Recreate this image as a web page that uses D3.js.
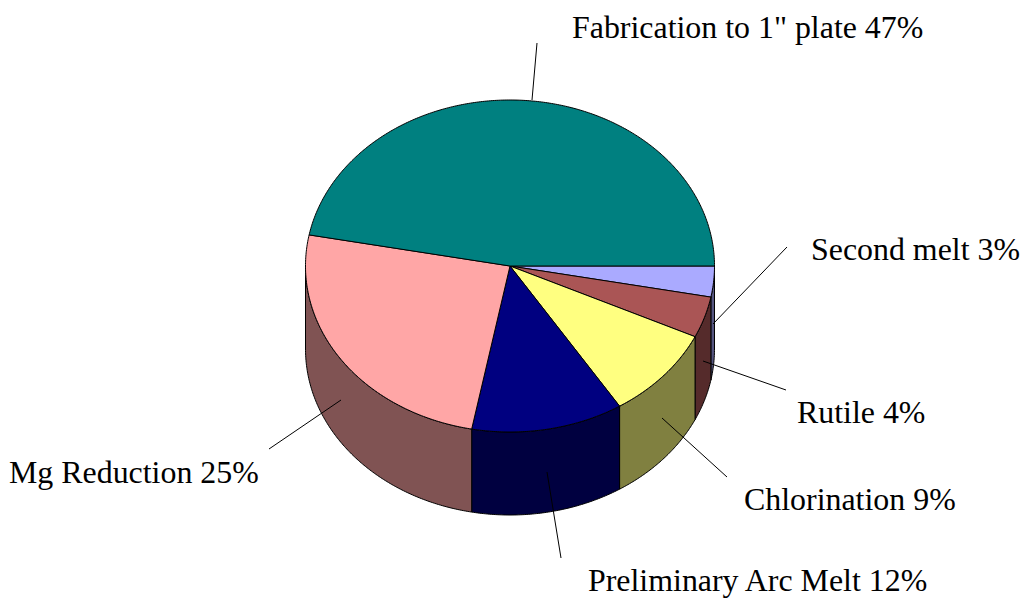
<!DOCTYPE html>
<html>
<head>
	<title>Cost breakdown pie</title>
	<meta charset="utf-8">
	<style>
	html, body { margin: 0; padding: 0; background: #fff; }
	svg { display: block; }
	text { font-family: "Liberation Serif", serif; font-size: 31.9px; fill: #000; }
	</style>
	<script src="https://cdn.jsdelivr.net/npm/d3@7"></script>
</head>
<body>
	<svg width="1021" height="598"></svg>
	<script>
		// data, in drawing order, clockwise from 3 o'clock
		var categories = ["Second melt", "Rutile", "Chlorination", "Preliminary Arc Melt", "Mg Reduction", "Fabrication to 1\" plate"];
		var percents = [3, 4, 9, 12, 25, 47];
		var topColors = ["#aaaaff", "#aa5555", "#ffff80", "#000080", "#ffa6a6", "#008080"];
		var sideColors = ["#555580", "#552b2b", "#808040", "#000040", "#805353", "#004040"];

		// label anchor and leader line [x1, y1, x2, y2], same order as categories
		var labelPos = [[811, 260], [797, 423], [744, 510], [588, 591], [9, 483], [572, 38]];
		var leaders = [[787, 247, 713, 324], [703, 361, 786, 390], [662, 418, 727, 477], [547, 472, 561, 558], [341, 400, 269, 449], [532, 100, 537, 43]];

		var cx = 510, cy = 266, rx = 204.5, ry = 166, depth = 83;

		var svg = d3.select("svg");

		var x = d3.scaleLinear().domain([-1, 1]).range([cx - rx, cx + rx]);
		var y = d3.scaleLinear().domain([-1, 1]).range([cy - ry, cy + ry]);

		// d3.pie angles start at north, so start a quarter turn on
		var pie = d3.pie().sort(null).startAngle(Math.PI / 2).endAngle(Math.PI * 2.5);
		var arcs = pie(percents);

		var line = d3.line()
			.x(function(p) { return p[0]; })
			.y(function(p) { return p[1]; });

		function rim(a0, a1, dy) {
			var n = Math.max(2, Math.ceil((a1 - a0) / 0.01));
			return d3.range(n + 1).map(function(i) {
				var a = a0 + (a1 - a0) * i / n;
				return [x(Math.sin(a)), y(-Math.cos(a)) + dy];
			});
		}

		// side walls, only the front half is visible
		var front = arcs.map(function(d, i) {
			return {i: i, a0: d.startAngle, a1: Math.min(d.endAngle, Math.PI * 1.5)};
		}).filter(function(d) { return d.a1 > d.a0; });

		svg.append("g").selectAll("path")
			.data(front)
			.enter().append("path")
			.attr("d", function(d) {
				var pts = rim(d.a0, d.a1, 0).concat(rim(d.a0, d.a1, depth).reverse());
				return line(pts) + "Z";
			})
			.attr("fill", function(d) { return sideColors[d.i]; })
			.attr("stroke", "#000")
			.attr("stroke-width", 1)
			.attr("stroke-linejoin", "round");

		// top face
		svg.append("g").selectAll("path")
			.data(arcs)
			.enter().append("path")
			.attr("d", function(d) {
				return line([[cx, cy]].concat(rim(d.startAngle, d.endAngle, 0))) + "Z";
			})
			.attr("fill", function(d, i) { return topColors[i]; })
			.attr("stroke", "#000")
			.attr("stroke-width", 1)
			.attr("stroke-linejoin", "round");

		svg.append("g").selectAll("line")
			.data(leaders)
			.enter().append("line")
			.attr("x1", function(d) { return d[0]; })
			.attr("y1", function(d) { return d[1]; })
			.attr("x2", function(d) { return d[2]; })
			.attr("y2", function(d) { return d[3]; })
			.attr("stroke", "#000")
			.attr("stroke-width", 1);

		svg.append("g").selectAll("text")
			.data(categories)
			.enter().append("text")
			.attr("x", function(d, i) { return labelPos[i][0]; })
			.attr("y", function(d, i) { return labelPos[i][1]; })
			.text(function(d, i) { return d + " " + percents[i] + "%"; });
	</script>
</body>
</html>
